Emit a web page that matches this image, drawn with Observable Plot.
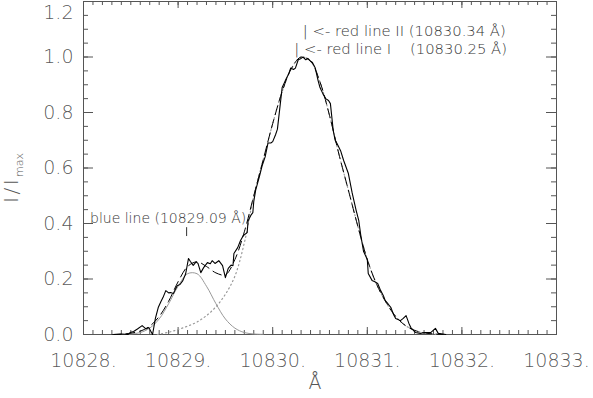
<!DOCTYPE html>
<html><head><meta charset="utf-8">
<script src="https://cdn.jsdelivr.net/npm/d3@7"></script>
<script src="https://cdn.jsdelivr.net/npm/@observablehq/plot@0.6"></script>
<style>html,body{margin:0;padding:0;background:#fff} svg{display:block} svg text{font-weight:200}</style>
</head><body><div id="chart"></div>
<script>
// Observed profile (solid black)
const obsX = [10828.32,10828.40,10828.47,10828.50,10828.53,10828.57,10828.62,10828.66,10828.69,10828.73,10828.76,10828.79,10828.82,10828.84,10828.87,10828.90,10828.92,10828.95,10828.99,10829.02,10829.05,10829.08,10829.11,10829.13,10829.16,10829.19,10829.21,10829.24,10829.27,10829.31,10829.34,10829.36,10829.39,10829.43,10829.47,10829.50,10829.53,10829.56,10829.58,10829.59,10829.63,10829.66,10829.69,10829.73,10829.74,10829.77,10829.79,10829.80,10829.82,10829.86,10829.89,10829.92,10829.95,10829.98,10830.00,10830.03,10830.05,10830.08,10830.10,10830.12,10830.14,10830.17,10830.19,10830.22,10830.24,10830.27,10830.30,10830.32,10830.35,10830.37,10830.40,10830.42,10830.45,10830.48,10830.50,10830.53,10830.56,10830.59,10830.61,10830.64,10830.66,10830.68,10830.72,10830.75,10830.80,10830.84,10830.88,10830.91,10830.93,10830.96,10831.00,10831.01,10831.05,10831.08,10831.11,10831.14,10831.17,10831.19,10831.22,10831.25,10831.28,10831.30,10831.35,10831.38,10831.41,10831.44,10831.46,10831.51,10831.56,10831.61,10831.67,10831.72,10831.75,10831.83];
const obsY = [0,0.002,0,0.008,0.011,0.02,0.032,0.02,0.025,0,0.058,0.097,0.12,0.133,0.158,0.15,0.151,0.148,0.176,0.18,0.194,0.219,0.274,0.263,0.249,0.262,0.256,0.223,0.241,0.259,0.255,0.266,0.256,0.266,0.248,0.205,0.238,0.25,0.248,0.292,0.313,0.339,0.357,0.367,0.41,0.43,0.439,0.48,0.52,0.57,0.61,0.64,0.69,0.69,0.695,0.72,0.74,0.83,0.89,0.905,0.92,0.94,0.96,0.955,0.96,0.99,0.995,1.0,0.99,0.995,0.985,0.98,0.96,0.915,0.89,0.868,0.85,0.843,0.832,0.735,0.70,0.688,0.66,0.627,0.58,0.51,0.45,0.41,0.36,0.30,0.27,0.22,0.195,0.19,0.184,0.159,0.14,0.122,0.11,0.097,0.07,0.058,0.05,0.058,0.068,0.04,0.025,0.007,0.004,0.007,0.007,0.022,0.004,0];

// Total fit (dashed black)
const fitX = [10828.3,10828.4,10828.5,10828.6,10828.7,10828.8,10828.9,10829.0,10829.1,10829.2,10829.3,10829.4,10829.5,10829.6,10829.7,10829.8,10829.9,10830.0,10830.1,10830.2,10830.3,10830.4,10830.5,10830.6,10830.7,10830.8,10830.9,10831.0,10831.1,10831.2,10831.3,10831.4,10831.5,10831.6,10831.7,10831.8];
const fitY = [0,0.001,0.005,0.012,0.03,0.065,0.12,0.19,0.245,0.262,0.245,0.222,0.215,0.27,0.37,0.50,0.63,0.76,0.875,0.96,1.0,0.985,0.91,0.79,0.65,0.52,0.39,0.27,0.18,0.115,0.065,0.033,0.015,0.006,0.002,0];

// Red component (dotted gray)
const redX = [10828.78,10828.9,10829.0,10829.1,10829.2,10829.3,10829.4,10829.5,10829.6,10829.7,10829.8,10829.9,10830.0,10830.1,10830.2,10830.3,10830.4,10830.5,10830.6,10830.7,10830.8,10830.9,10831.0,10831.1,10831.2,10831.3,10831.4,10831.5,10831.6,10831.7,10831.8];
const redY = [0,0.008,0.018,0.03,0.045,0.068,0.10,0.145,0.21,0.33,0.50,0.63,0.76,0.875,0.96,1.0,0.985,0.91,0.79,0.65,0.52,0.39,0.27,0.18,0.115,0.065,0.033,0.015,0.006,0.002,0];

// Blue component (solid gray)
const blueX = [10828.3,10828.4,10828.5,10828.6,10828.7,10828.8,10828.9,10829.0,10829.1,10829.2,10829.3,10829.4,10829.5,10829.6,10829.7,10829.8,10829.9];
const blueY = [0,0.0004,0.002,0.007,0.023,0.056,0.111,0.174,0.219,0.219,0.174,0.111,0.056,0.023,0.007,0.002,0.0004];

// Annotations
const lineWaves = [10829.09, 10830.25, 10830.34];
const lineTexts = ["blue line (10829.09 Å)", "| <- red line I\u00a0\u00a0\u00a0\u00a0(10830.25 Å)", "| <- red line II (10830.34 Å)"];
const lineTextY = [0.4195, 1.028, 1.093];
const lineTextSize = [14, 14.8, 14.8];
const blueMarkY = [0.353, 0.385];

// Ticks
const xTicks = [10828, 10829, 10830, 10831, 10832, 10833];
const xTickLabels = ["10828.", "10829.", "10830.", "10831.", "10832.", "10833."];
const yTicks = [0, 0.2, 0.4, 0.6, 0.8, 1.0, 1.2];
const yTickLabels = ["0.0", "0.2", "0.4", "0.6", "0.8", "1.0", "1.2"];
const xMinor = d3.range(0, 51).map(i => 10828 + i / 10);
const yMinor = d3.range(0, 25).map(i => i * 0.05);

const W = 593, H = 398, mL = 83, mR = 37, mT = 1, mB = 64;
const fw = W - mL - mR, fh = H - mT - mB;
const axisCol = "#555", txtCol = "#555";
const pts = (xs, ys) => xs.map((x, i) => ({x, y: ys[i]}));

const plot = Plot.plot({
  width: W, height: H,
  marginLeft: mL, marginRight: mR, marginTop: mT, marginBottom: mB,
  style: {fontFamily: "DejaVu Sans", background: "#fff"},
  x: {domain: [10828, 10833]},
  y: {domain: [0, 1.2]},
  marks: [
    Plot.frame({stroke: axisCol}),
    // bottom / top x ticks
    Plot.tickX(xMinor, {x: d => d, insetTop: fh - 4, stroke: axisCol}),
    Plot.tickX(xMinor, {x: d => d, insetBottom: fh - 4, stroke: axisCol}),
    Plot.tickX(xTicks, {x: d => d, insetTop: fh - 7, stroke: axisCol}),
    Plot.tickX(xTicks, {x: d => d, insetBottom: fh - 7, stroke: axisCol}),
    // left / right y ticks
    Plot.tickY(yMinor, {y: d => d, insetRight: fw - 5, stroke: axisCol}),
    Plot.tickY(yMinor, {y: d => d, insetLeft: fw - 5, stroke: axisCol}),
    Plot.tickY(yTicks, {y: d => d, insetRight: fw - 10, stroke: axisCol}),
    Plot.tickY(yTicks, {y: d => d, insetLeft: fw - 10, stroke: axisCol}),
    Plot.axisX({ticks: xTicks, tickSize: 0, tickPadding: 19, fontSize: 19, fill: txtCol, opacity: 0.99,
      tickFormat: d => xTickLabels[xTicks.indexOf(d)], label: null}),
    Plot.axisY({ticks: yTicks.slice(0, 6), tickSize: 0, tickPadding: 10, fontSize: 19, fill: txtCol, opacity: 0.99,
      tickFormat: d => yTickLabels[yTicks.indexOf(d)], label: null}),
    Plot.axisY({ticks: [1.2], tickSize: 0, tickPadding: 10, fontSize: 19, fill: txtCol, dy: 11, opacity: 0.99,
      tickFormat: d => yTickLabels[yTicks.indexOf(d)], label: null}),
    Plot.text(["Å"], {frameAnchor: "bottom", dy: 54, dx: -5, fontSize: 19, fill: txtCol, opacity: 0.99}),
    // curves
    Plot.line(pts(blueX, blueY), {x: "x", y: "y", stroke: "#999", strokeWidth: 1, curve: "catmull-rom"}),
    Plot.line(pts(redX, redY), {x: "x", y: "y", stroke: "#999", strokeWidth: 1.2, strokeDasharray: "1.2,3", curve: "catmull-rom"}),
    Plot.line(pts(fitX, fitY), {x: "x", y: "y", stroke: "#000", strokeWidth: 1, strokeDasharray: "9,5", curve: "catmull-rom"}),
    Plot.line(pts(obsX, obsY), {x: "x", y: "y", stroke: "#000", strokeWidth: 1.1}),
    // annotations
    Plot.ruleX([lineWaves[0]], {x: d => d, y1: blueMarkY[0], y2: blueMarkY[1], stroke: "#333"}),
    Plot.text(lineTexts, {
      x: (d, i) => i === 0 ? lineWaves[0] - 1.0 : lineWaves[i],
      y: (d, i) => lineTextY[i],
      fontSize: (d, i) => lineTextSize[i],
      text: d => d, textAnchor: "start", dx: -2, fill: "#333", opacity: 0.99
    })
  ]
});
document.getElementById("chart").appendChild(plot);

// y-axis title with subscript
const svg = d3.select(plot);
const t = svg.append("text")
  .attr("transform", "translate(18,178) rotate(-90)")
  .attr("text-anchor", "middle")
  .attr("font-family", "DejaVu Sans")
  .attr("font-size", 20)
  .attr("opacity", 0.99)
  .attr("fill", txtCol);
t.append("tspan").attr("letter-spacing", 2.5).text("I/I");
t.append("tspan").attr("font-size", 11).attr("dy", 5).text("max");
</script>
</body></html>
